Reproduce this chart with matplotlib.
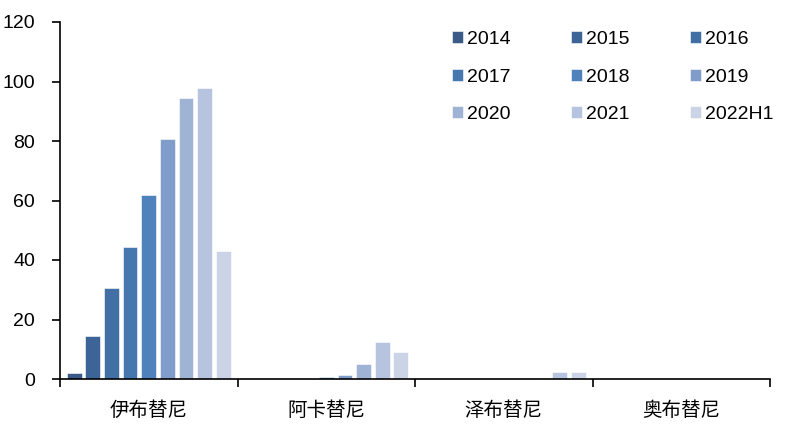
import numpy as np
import matplotlib
matplotlib.use("Agg")
import matplotlib.pyplot as plt

drugs = ["伊布替尼", "阿卡替尼", "泽布替尼", "奥布替尼"]
years = ["2014", "2015", "2016", "2017", "2018", "2019", "2020", "2021", "2022H1"]
ibrutinib = [2.0, 14.3, 30.5, 44.5, 62.0, 80.8, 94.3, 97.7, 43.0]
acalabrutinib = [0, 0, 0, 0, 0.6, 1.5, 5.0, 12.3, 9.0]
zanubrutinib = [0, 0, 0, 0, 0, 0, 0.3, 2.2, 2.3]
orelabrutinib = [0, 0, 0, 0, 0, 0, 0, 0, 0]
colours = ["#3A5A88", "#3D6497", "#4270A5", "#4777AF", "#4F81BD",
           "#7F9DC8", "#9FB3D4", "#B7C4DF", "#CBD4E6"]

plt.rcParams['font.family'] = ['Liberation Sans', 'Noto Sans CJK SC', 'DejaVu Sans']

data = np.array([ibrutinib, acalabrutinib, zanubrutinib, orelabrutinib])

fig = plt.figure(figsize=(8.06, 4.33), dpi=100)
ax = fig.add_axes([60/806, (433-379)/433, 710/806, 357/433])

slot = 0.105
width = 0.083
x = np.arange(len(drugs))
bars = []
for k, yr in enumerate(years):
    off = (k - 4) * slot
    b = ax.bar(x + off, data[:, k], width, color=colours[k], edgecolor="white",
               linewidth=0.4, label=yr)
    bars.append(b)

ax.set_xlim(-0.5, 3.5)
ax.set_ylim(0, 120)
ax.set_yticks(range(0, 121, 20))
ax.tick_params(axis='y', length=6, width=1.2, pad=12, labelsize=14)
ax.set_xticks(x)
ax.set_xticklabels(drugs, family=['Noto Sans CJK SC', 'DejaVu Sans'], fontsize=14)
ax.tick_params(axis='x', which='major', length=0, pad=15)
ax.set_xticks(np.arange(-0.5, 3.6, 1), minor=True)
ax.tick_params(axis='x', which='minor', length=6, width=1.2)

for s in ["top", "right"]:
    ax.spines[s].set_visible(False)
for s in ["left", "bottom"]:
    ax.spines[s].set_linewidth(1.2)

# row-wise legend order
order = [0, 3, 6, 1, 4, 7, 2, 5, 8]
fig.legend([bars[i] for i in order], [years[i] for i in order], ncol=3,
           loc="upper left", bbox_to_anchor=(452/806, (433-31)/433),
           frameon=False, fontsize=14, handlelength=0.57, handleheight=0.57,
           handletextpad=0.2, columnspacing=3.1, labelspacing=1.06,
           borderpad=0, borderaxespad=0)

fig.savefig("out.png", dpi=100)
